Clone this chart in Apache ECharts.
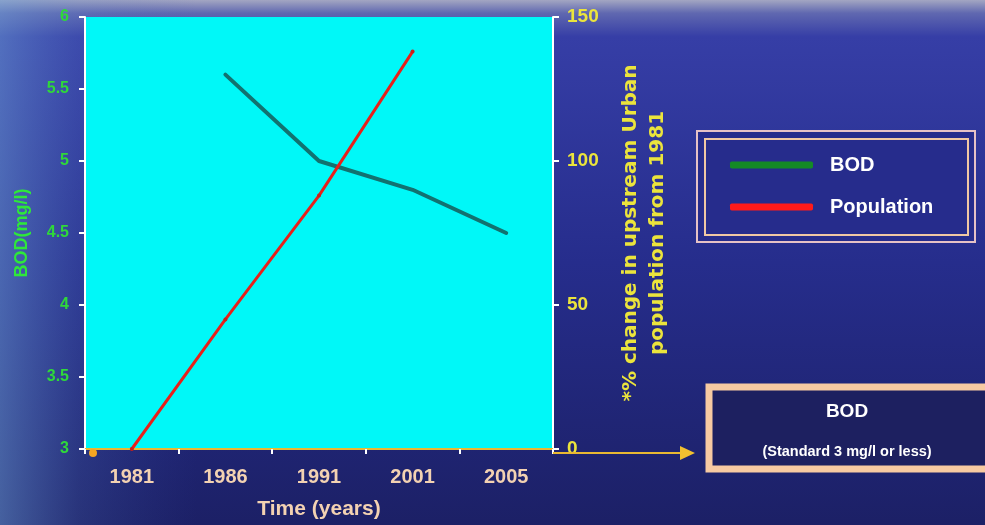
<!DOCTYPE html>
<html>
<head>
<meta charset="utf-8">
<script src="https://cdn.jsdelivr.net/npm/echarts@6/dist/echarts.min.js"></script>
<style>
  html, body { margin: 0; padding: 0; background: #232a88; }
  #chart { width: 985px; height: 525px; }
</style>
</head>
<body>
<div id="chart"></div>
<script>
// Survey years on the time axis
const years = ['1981', '1986', '1991', '2001', '2005'];
// River BOD (mg/l); no reading for 1981
const bodValues = [null, 5.6, 5.0, 4.8, 4.5];
// % change in upstream urban population since 1981
const populationChange = [0, 45, 88, 138, null];
// Axis tick ranges
const bodTicks = { min: 3, max: 6, step: 0.5 };
const popTicks = { min: 0, max: 150, step: 50 };

const sans = '"Liberation Sans", Arial, sans-serif';
const wide = '"DejaVu Sans", "Liberation Sans", sans-serif';

const chart = echarts.init(document.getElementById('chart'), null, { renderer: 'canvas' });

const option = {
  animation: false,
  backgroundColor: 'transparent',
  grid: { left: 85, right: 432, top: 17, bottom: 72, show: true, backgroundColor: '#00f8f8', borderWidth: 0 },
  legend: {
    orient: 'vertical',
    left: 725,
    top: 150,
    itemWidth: 83,
    itemHeight: 7,
    itemGap: 22,
    icon: 'roundRect',
    selectedMode: false,
    textStyle: { color: '#ffffff', fontFamily: sans, fontWeight: 'bold', fontSize: 20, padding: [0, 0, 0, 12] },
    data: [
      { name: 'BOD', itemStyle: { color: '#148a26' } },
      { name: 'Population', itemStyle: { color: '#ff1a1a' } }
    ]
  },
  xAxis: {
    type: 'category',
    data: years,
    boundaryGap: true,
    name: 'Time (years)',
    nameLocation: 'middle',
    nameGap: 50,
    nameTextStyle: { color: '#f3d2b2', fontFamily: sans, fontWeight: 'bold', fontSize: 21 },
    axisLine: { show: true, lineStyle: { color: '#e9b832', width: 2 } },
    axisTick: { show: true, length: 5, lineStyle: { color: '#ffffff', width: 2 } },
    axisLabel: { color: '#f3d2b2', fontFamily: sans, fontWeight: 'bold', fontSize: 20, margin: 18 },
    splitLine: { show: false }
  },
  yAxis: [
    {
      type: 'value',
      position: 'left',
      min: bodTicks.min,
      max: bodTicks.max,
      interval: bodTicks.step,
      name: 'BOD(mg/l)',
      nameLocation: 'middle',
      nameRotate: 90,
      nameGap: 54,
      nameTextStyle: { color: '#2ee83a', fontFamily: sans, fontWeight: 'bold', fontSize: 18 },
      axisLine: { show: true, onZero: false, lineStyle: { color: '#ffffff', width: 2 } },
      axisTick: { show: true, length: 6, lineStyle: { color: '#ffffff', width: 2 } },
      axisLabel: { color: '#2fd83a', fontFamily: sans, fontWeight: 'bold', fontSize: 16, margin: 16 },
      splitLine: { show: false }
    },
    {
      type: 'value',
      position: 'right',
      min: popTicks.min,
      max: popTicks.max,
      interval: popTicks.step,
      name: '*% change in upstream Urban\npopulation from 1981',
      nameLocation: 'middle',
      nameRotate: 90,
      nameGap: 64,
      nameTextStyle: { color: '#ebe43c', fontFamily: wide, fontWeight: 'bold', fontSize: 20, lineHeight: 27, align: 'center' },
      axisLine: { show: true, onZero: false, lineStyle: { color: '#ffffff', width: 2 } },
      axisTick: { show: true, length: 6, lineStyle: { color: '#ffffff', width: 2 } },
      axisLabel: { color: '#ebe43c', fontFamily: sans, fontWeight: 'bold', fontSize: 19, margin: 14 },
      splitLine: { show: false }
    }
  ],
  series: [
    {
      name: 'BOD',
      type: 'line',
      yAxisIndex: 0,
      data: bodValues,
      showSymbol: false,
      connectNulls: false,
      lineStyle: { color: '#127270', width: 4, cap: 'round', join: 'round' },
      itemStyle: { color: '#148a26' },
      z: 3
    },
    {
      name: 'Population',
      type: 'line',
      yAxisIndex: 1,
      data: populationChange,
      symbol: 'circle',
      symbolSize: 4,
      showSymbol: true,
      lineStyle: { color: '#e8201a', width: 3 },
      itemStyle: { color: '#c8201a' },
      z: 4
    }
  ],
  graphic: [
    // water-like backdrop
    {
      type: 'rect', z: -100, silent: true,
      shape: { x: 0, y: 0, width: 985, height: 525 },
      style: {
        fill: new echarts.graphic.LinearGradient(0, 0, 0, 1, [
          { offset: 0, color: '#a3a6c2' },
          { offset: 0.025, color: '#6068b0' },
          { offset: 0.07, color: '#363ea6' },
          { offset: 0.5, color: '#262d8c' },
          { offset: 1, color: '#1c2066' }
        ])
      }
    },
    {
      type: 'rect', z: -99, silent: true,
      shape: { x: 0, y: 0, width: 985, height: 525 },
      style: {
        fill: new echarts.graphic.LinearGradient(0, 0, 1, 0, [
          { offset: 0, color: 'rgba(110,160,215,0.5)' },
          { offset: 0.08, color: 'rgba(90,130,200,0.2)' },
          { offset: 0.2, color: 'rgba(60,90,180,0)' },
          { offset: 1, color: 'rgba(60,90,180,0)' }
        ])
      }
    },
    // axis arrow continuing past the plot
    {
      type: 'line', z: 5, silent: true,
      shape: { x1: 553, y1: 453, x2: 682, y2: 453 },
      style: { stroke: '#e9b832', lineWidth: 2 }
    },
    {
      type: 'polygon', z: 5, silent: true,
      shape: { points: [[680, 446], [695, 453], [680, 460]] },
      style: { fill: '#f2c030' }
    },
    {
      type: 'circle', z: 6, silent: true,
      shape: { cx: 93, cy: 453, r: 4 },
      style: { fill: '#f5a623' }
    },
    // legend frame
    {
      type: 'rect', z: -1, silent: true,
      shape: { x: 697, y: 131, width: 278, height: 111 },
      style: { fill: '#262c8c', stroke: '#e6c2c6', lineWidth: 2 }
    },
    {
      type: 'rect', z: -1, silent: true,
      shape: { x: 705, y: 139, width: 263, height: 96 },
      style: { fill: 'transparent', stroke: '#f0c8a4', lineWidth: 2 }
    },
    // standard note box
    {
      type: 'rect', z: 1, silent: true,
      shape: { x: 709, y: 387, width: 282, height: 82 },
      style: { fill: '#1d2060', stroke: '#f7caa2', lineWidth: 7 }
    },
    {
      type: 'text', z: 2, silent: true,
      style: { x: 847, y: 412, text: 'BOD', fill: '#ffffff', font: 'bold 19px ' + sans, textAlign: 'center', textVerticalAlign: 'middle' }
    },
    {
      type: 'text', z: 2, silent: true,
      style: { x: 847, y: 452, text: '(Standard 3 mg/l or less)', fill: '#ffffff', font: 'bold 14.5px ' + sans, textAlign: 'center', textVerticalAlign: 'middle' }
    }
  ]
};

chart.setOption(option);
</script>
</body>
</html>
